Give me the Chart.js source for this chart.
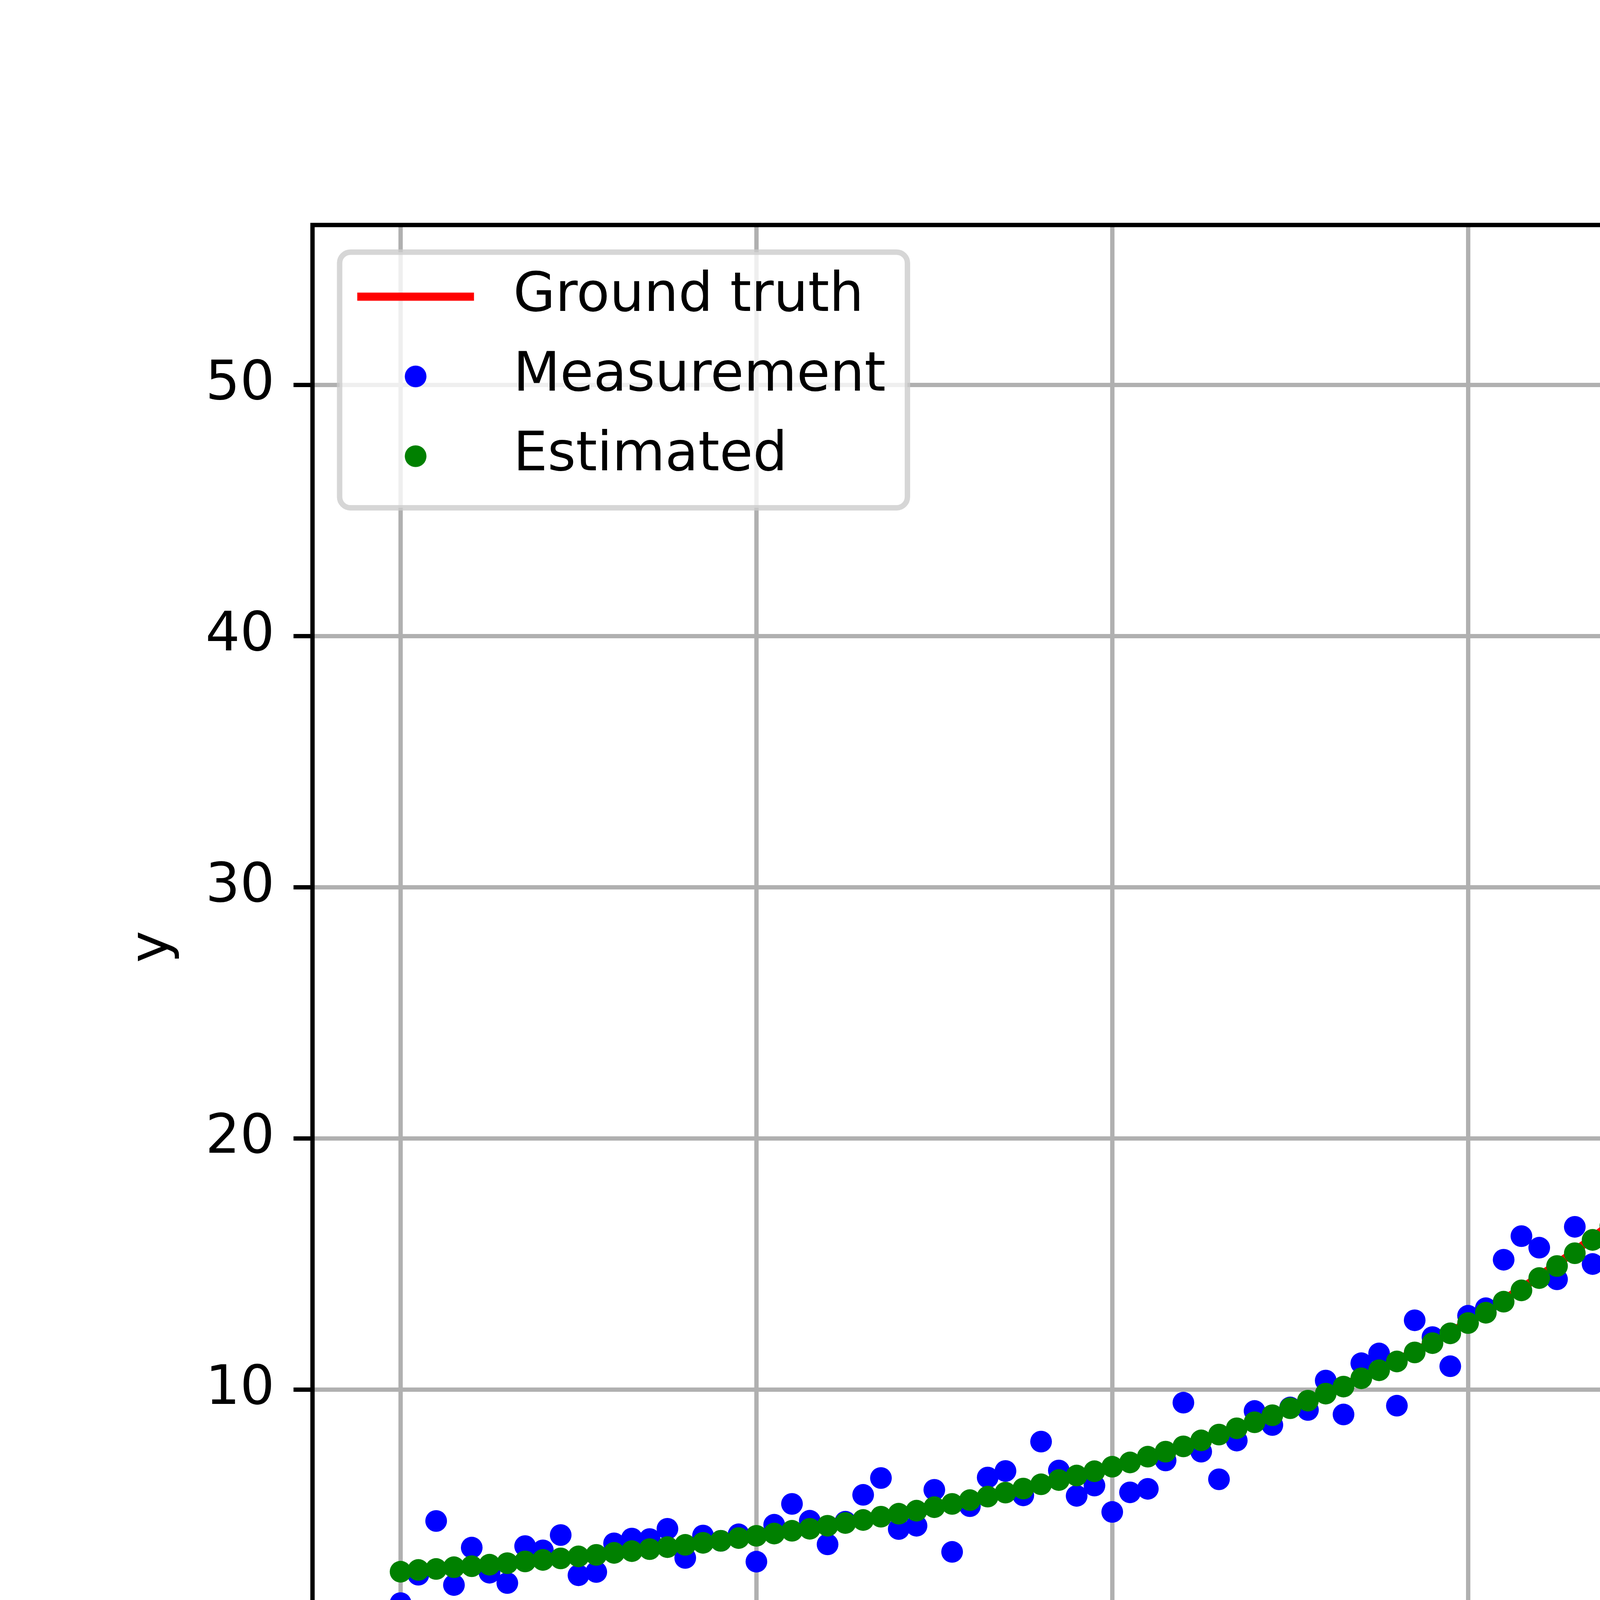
<!DOCTYPE html>
<html>
<head>
<meta charset="utf-8">
<script src="https://cdn.jsdelivr.net/npm/chart.js@4/dist/chart.umd.min.js"></script>
<style>
html,body{margin:0;padding:0;background:#ffffff;overflow:hidden;}
#c{display:block;width:6400px;height:4800px;}
</style>
</head>
<body>
<canvas id="c" width="6400" height="4800"></canvas>
<script>
// ---------------- data ----------------
const xValues = [
  0.00,0.01,0.02,0.03,0.04,0.05,0.06,0.07,0.08,0.09,
  0.10,0.11,0.12,0.13,0.14,0.15,0.16,0.17,0.18,0.19,
  0.20,0.21,0.22,0.23,0.24,0.25,0.26,0.27,0.28,0.29,
  0.30,0.31,0.32,0.33,0.34,0.35,0.36,0.37,0.38,0.39,
  0.40,0.41,0.42,0.43,0.44,0.45,0.46,0.47,0.48,0.49,
  0.50,0.51,0.52,0.53,0.54,0.55,0.56,0.57,0.58,0.59,
  0.60,0.61,0.62,0.63,0.64,0.65,0.66,0.67,0.68,0.69,
  0.70,0.71,0.72,0.73,0.74,0.75,0.76,0.77,0.78,0.79,
  0.80,0.81,0.82,0.83,0.84,0.85,0.86,0.87,0.88,0.89,
  0.90,0.91,0.92,0.93,0.94,0.95,0.96,0.97,0.98,0.99
];
const groundTruth = [
  2.76,2.82,2.88,2.94,2.99,3.05,3.11,3.17,3.23,3.30,
  3.37,3.44,3.51,3.58,3.66,3.74,3.82,3.91,4.00,4.09,
  4.19,4.28,4.38,4.48,4.59,4.70,4.82,4.94,5.07,5.20,
  5.33,5.47,5.61,5.76,5.91,6.07,6.24,6.41,6.58,6.76,
  6.95,7.13,7.34,7.55,7.77,8.00,8.24,8.48,8.74,9.01,
  9.29,9.58,9.87,10.18,10.50,10.83,11.17,11.53,11.90,12.29,
  12.70,13.13,13.58,14.04,14.52,15.01,15.52,16.05,16.60,17.18,
  17.78,18.41,19.07,19.75,20.45,21.18,21.95,22.75,23.58,24.44,
  25.35,26.30,27.30,28.34,29.43,30.57,31.75,32.99,34.29,35.64,
  37.05,38.53,40.07,41.69,43.38,45.15,47.00,48.90,50.65,52.45
];
const measurement = [
  1.51,2.64,4.78,2.23,3.72,2.72,2.31,3.78,3.61,4.22,
  2.62,2.75,3.89,4.08,4.06,4.47,3.31,4.20,3.99,4.25,
  3.16,4.63,5.46,4.79,3.85,4.75,5.82,6.49,4.46,4.59,
  6.02,3.55,5.37,6.51,6.77,5.80,7.94,6.79,5.78,6.19,
  5.14,5.92,6.06,7.19,9.49,7.54,6.44,7.98,9.16,8.60,
  9.30,9.20,10.37,9.02,11.06,11.45,9.37,12.77,12.10,10.94,
  12.95,13.25,15.18,16.12,15.66,14.40,16.49,15.01,15.75,16.00,
  16.49,18.53,19.09,19.76,19.75,20.73,22.12,23.25,23.64,24.93,
  26.19,25.45,27.62,26.92,28.32,31.81,33.91,32.31,35.45,34.39,
  37.00,40.18,41.19,41.34,43.20,42.81,46.46,49.30,51.24,53.76
];
const estimated = [
  2.76,2.83,2.87,2.94,2.98,3.04,3.10,3.17,3.23,3.29,
  3.37,3.43,3.51,3.58,3.66,3.74,3.83,3.91,3.99,4.10,
  4.19,4.28,4.39,4.47,4.59,4.70,4.82,4.95,5.07,5.19,
  5.33,5.46,5.61,5.75,5.91,6.07,6.24,6.41,6.59,6.76,
  6.94,7.11,7.34,7.54,7.75,7.99,8.22,8.47,8.71,8.99,
  9.27,9.57,9.85,10.13,10.46,10.78,11.13,11.49,11.86,12.25,
  12.66,13.07,13.51,13.96,14.45,14.93,15.44,15.97,16.53,17.11,
  17.70,18.35,19.02,19.67,20.38,21.12,21.90,22.70,23.56,24.41,
  25.33,26.28,27.28,28.32,29.42,30.55,31.72,32.97,34.27,35.62,
  37.04,38.53,40.07,41.71,43.42,45.22,47.08,49.05,51.13,53.24
];
const seriesLabels = ['Ground truth', 'Measurement', 'Estimated'];
const xTickValues = [0.0, 0.2, 0.4, 0.6, 0.8, 1.0];
const yTickValues = [0, 10, 20, 30, 40, 50];
const xAxisTitle = 'x';
const yAxisTitle = 'y';

// ---------------- styling ----------------
const FONT = 'DejaVu Sans';
const FS = 138.89;            // 10 pt at 1000 dpi
const PT = 1000 / 72;         // px per point
const COLORS = { gt: '#ff0000', meas: '#0000ff', est: '#008000' };
const DOT_R = 2 * PT;         // '.' marker outer radius
const X_MIN = -0.0495, X_MAX = 1.0395;
const Y_MIN = -1.1025, Y_MAX = 56.3725;

const toPoints = (xs, ys) => xs.map((x, i) => ({ x: x, y: ys[i] }));

// legend handle images
function makeHandle(kind, color) {
  const c = document.createElement('canvas');
  c.width = 400; c.height = 64;
  const g = c.getContext('2d');
  const cx = 209, cy = 32;
  g.fillStyle = color;
  if (kind === 'line') {
    const half = 139 + 0.75 * PT;
    g.fillRect(cx - half, cy - 0.75 * PT, 2 * half, 1.5 * PT);
  } else {
    g.beginPath(); g.arc(cx, cy, DOT_R, 0, Math.PI * 2); g.fill();
  }
  return c;
}
const handles = [
  makeHandle('line', COLORS.gt),
  makeHandle('dot', COLORS.meas),
  makeHandle('dot', COLORS.est)
];

// spines (full box) drawn above datasets
const spinePlugin = {
  id: 'spines',
  afterDatasetsDraw(chart) {
    const a = chart.chartArea, ctx = chart.ctx;
    ctx.save();
    ctx.strokeStyle = '#000000';
    ctx.lineWidth = 0.8 * PT;
    ctx.lineJoin = 'miter';
    ctx.strokeRect(a.left, a.top, a.right - a.left, a.bottom - a.top);
    ctx.restore();
  }
};

// legend frame + legend drawn on top of everything
const legendFramePlugin = {
  id: 'legendFrame',
  beforeDraw(chart) {
    const L = chart.legend;
    if (L && !L._patched) {
      L._origDraw = L.draw;
      L.draw = function () {};
      L._patched = true;
    }
  },
  afterDraw(chart) {
    const L = chart.legend;
    if (!L) return;
    const ctx = chart.ctx;
    const a = chart.chartArea;
    ctx.save();
    ctx.font = FS + 'px "' + FONT + '"';
    let tw = 0;
    seriesLabels.forEach(t => { tw = Math.max(tw, ctx.measureText(t).width); });
    const pad = 0.5 * FS;
    const x0 = a.left + pad, y0 = a.top + pad;
    const textX = a.left + 65.3 + 379.3 + FS / 2;
    const x1 = textX + tw + 0.4 * FS, y1 = 1300;
    const r = 0.2 * FS;
    ctx.beginPath();
    ctx.moveTo(x0 + r, y0);
    ctx.lineTo(x1 - r, y0);
    ctx.arcTo(x1, y0, x1, y0 + r, r);
    ctx.lineTo(x1, y1 - r);
    ctx.arcTo(x1, y1, x1 - r, y1, r);
    ctx.lineTo(x0 + r, y1);
    ctx.arcTo(x0, y1, x0, y1 - r, r);
    ctx.lineTo(x0, y0 + r);
    ctx.arcTo(x0, y0, x0 + r, y0, r);
    ctx.closePath();
    ctx.fillStyle = 'rgba(255,255,255,0.8)';
    ctx.fill();
    ctx.strokeStyle = 'rgba(204,204,204,0.8)';
    ctx.lineWidth = 1.0 * PT;
    ctx.stroke();
    ctx.restore();
    L.left = a.left; L.right = a.right;
    L.top = a.top + 48.7; L.bottom = a.bottom;
    L.width = L.right - L.left; L.height = L.bottom - L.top;
    L._origDraw.call(L);
  }
};

const tickFont = { family: FONT, size: FS };

new Chart(document.getElementById('c'), {
  type: 'scatter',
  data: {
    datasets: [
      {
        label: seriesLabels[0],
        data: toPoints(xValues, groundTruth),
        showLine: true,
        borderColor: COLORS.gt,
        backgroundColor: COLORS.gt,
        borderWidth: 1.5 * PT,
        borderCapStyle: 'square',
        borderJoinStyle: 'round',
        pointRadius: 0,
        pointHoverRadius: 0,
        tension: 0,
        fill: false,
        order: 3
      },
      {
        label: seriesLabels[1],
        data: toPoints(xValues, measurement),
        showLine: false,
        backgroundColor: COLORS.meas,
        borderColor: COLORS.meas,
        pointRadius: DOT_R,
        pointHoverRadius: DOT_R,
        pointBorderWidth: 0,
        order: 2
      },
      {
        label: seriesLabels[2],
        data: toPoints(xValues, estimated),
        showLine: false,
        backgroundColor: COLORS.est,
        borderColor: COLORS.est,
        pointRadius: DOT_R,
        pointHoverRadius: DOT_R,
        pointBorderWidth: 0,
        order: 1
      }
    ]
  },
  options: {
    responsive: false,
    devicePixelRatio: 1,
    animation: false,
    events: [],
    layout: { padding: { left: 0, right: 640, top: 576, bottom: 0 } },
    scales: {
      x: {
        type: 'linear',
        position: 'bottom',
        min: X_MIN,
        max: X_MAX,
        afterBuildTicks: s => { s.ticks = xTickValues.map(v => ({ value: v })); },
        afterFit: s => { s.height = 528; },
        ticks: {
          font: tickFont, color: '#000000', padding: 23,
          maxRotation: 0, minRotation: 0, autoSkip: false,
          callback: v => Number(v).toFixed(1)
        },
        grid: {
          color: '#b0b0b0', lineWidth: 0.8 * PT,
          drawTicks: true, tickLength: 3.5 * PT, tickColor: '#000000', tickWidth: 0.8 * PT
        },
        border: { display: false },
        title: {
          display: true, text: xAxisTitle, font: tickFont, color: '#000000',
          padding: { top: 0, bottom: 88 }
        }
      },
      y: {
        type: 'linear',
        position: 'left',
        min: Y_MIN,
        max: Y_MAX,
        afterBuildTicks: s => { s.ticks = yTickValues.map(v => ({ value: v })); },
        afterFit: s => { s.width = 800; },
        ticks: {
          font: tickFont, color: '#000000', padding: 3.5 * PT, autoSkip: false,
          callback: v => String(v)
        },
        grid: {
          color: '#b0b0b0', lineWidth: 0.8 * PT,
          drawTicks: true, tickLength: 3.5 * PT, tickColor: '#000000', tickWidth: 0.8 * PT
        },
        border: { display: false },
        title: {
          display: true, text: yAxisTitle, font: tickFont, color: '#000000',
          padding: { top: 310, bottom: 0 }
        }
      }
    },
    plugins: {
      tooltip: { enabled: false },
      title: { display: false },
      legend: {
        display: true,
        position: 'chartArea',
        align: 'start',
        labels: {
          usePointStyle: true,
          pointStyleWidth: 379.3,
          padding: 65.3,
          font: tickFont,
          color: '#000000',
          generateLabels: () => seriesLabels.map((t, i) => ({
            text: t,
            pointStyle: handles[i],
            fillStyle: [COLORS.gt, COLORS.meas, COLORS.est][i],
            strokeStyle: [COLORS.gt, COLORS.meas, COLORS.est][i],
            lineWidth: 0,
            hidden: false,
            fontColor: '#000000',
            datasetIndex: i
          }))
        }
      }
    }
  },
  plugins: [spinePlugin, legendFramePlugin]
});
</script>
</body>
</html>
